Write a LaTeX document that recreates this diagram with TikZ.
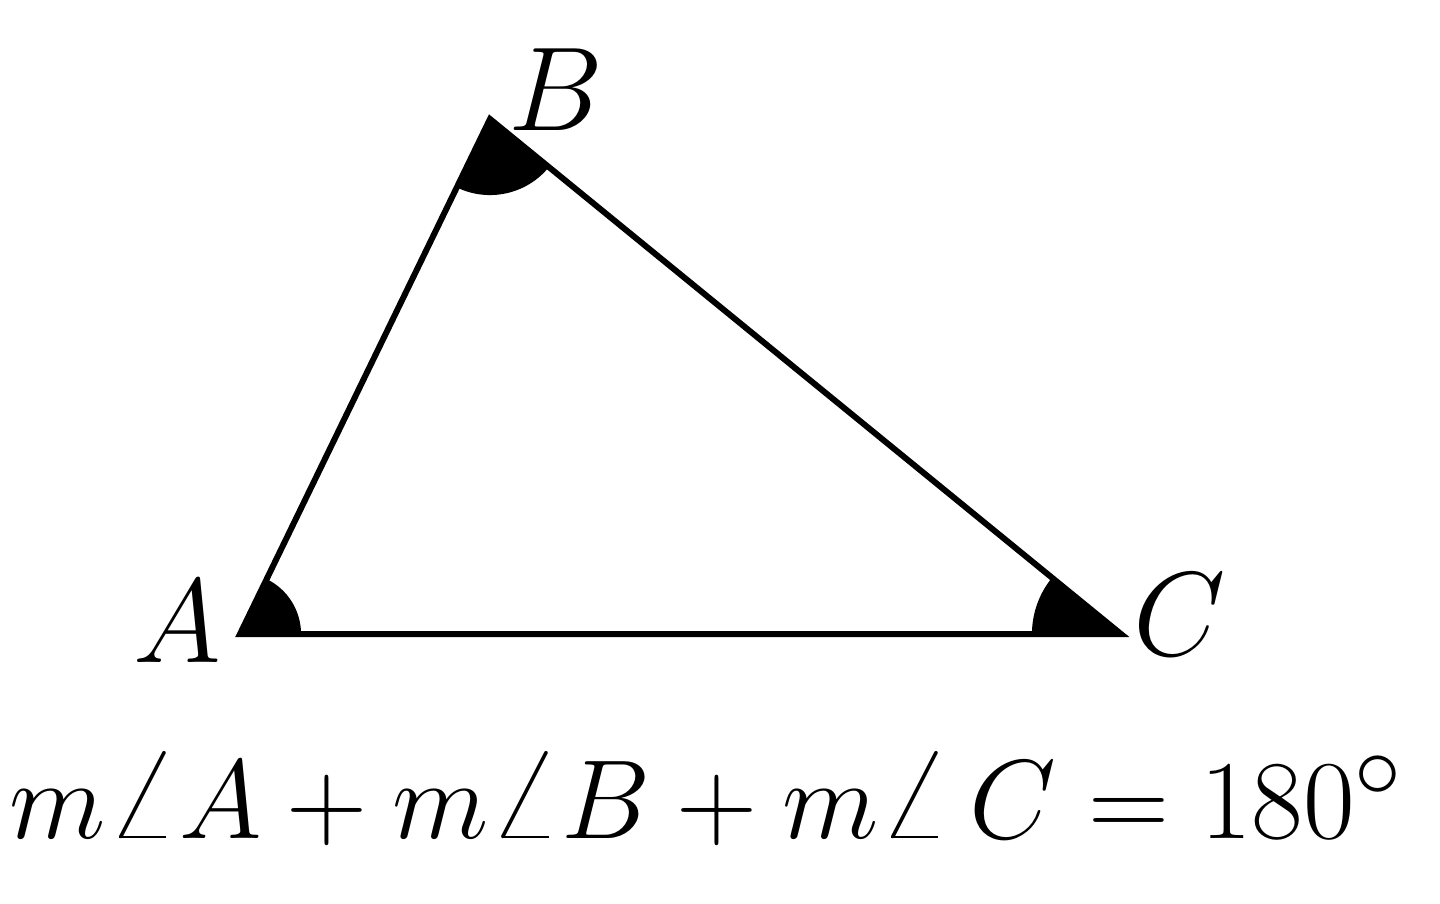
\documentclass[tikz,border=0pt]{standalone}
\usetikzlibrary{angles}

\tikzset{
  side/.style={line width=1.7pt, line join=miter},
  anglefill/.style={fill=black, draw=black, line width=0.6pt},
  vlabel/.style={anchor=base, font=\Huge, scale=1.367, transform shape},
  sumtext/.style={anchor=base, font=\Huge, scale=1.286, transform shape}
}

\begin{document}
\begin{tikzpicture}[scale=1]
  \useasboundingbox (0,0) rectangle (14.4,-9.03);

  % corners of the triangle
  \coordinate (A) at (2.40,-6.34);
  \coordinate (B) at (4.90,-1.19);
  \coordinate (C) at (11.21,-6.34);

  % filled angle marks
  \pic[anglefill, angle radius=0.6cm] {angle=C--A--B};
  \pic[anglefill, angle radius=0.75cm] {angle=A--B--C};
  \pic[anglefill, angle radius=0.88cm] {angle=B--C--A};

  \draw[side] (A)--(B)--(C)--cycle;

  \node[vlabel] (labA) at (1.77,-6.62) {$A$};
  \node[vlabel] (labB) at (5.56,-1.30) {$B$};
  \node[vlabel] (labC) at (11.80,-6.55) {$C$};

  \node[sumtext] (sum) at (7.07,-8.38)
    {$m\angle A + m\angle B + m\angle\, C = 180^\circ$};
\end{tikzpicture}
\end{document}
